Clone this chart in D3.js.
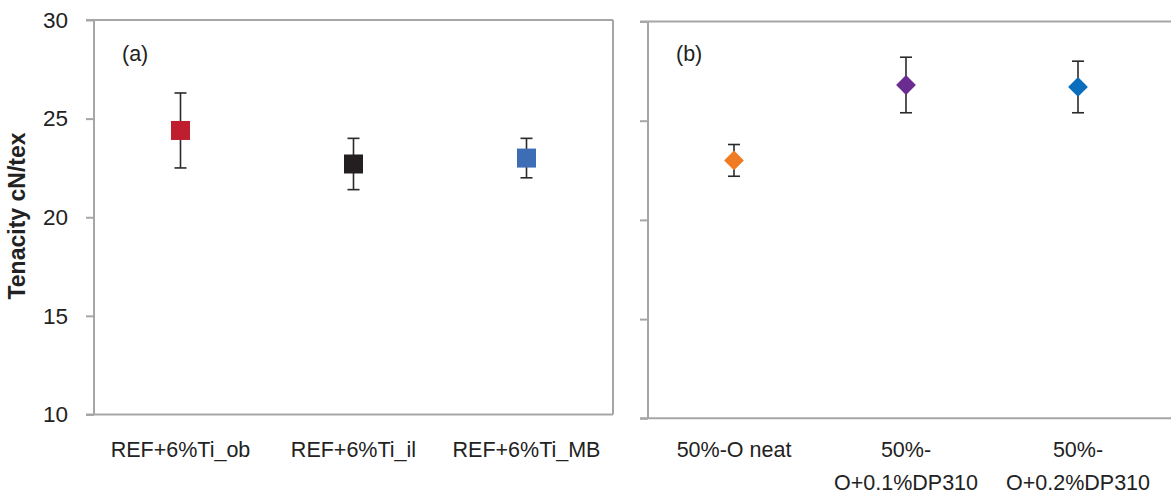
<!DOCTYPE html>
<html>
<head>
<meta charset="utf-8">
<script src="https://cdn.jsdelivr.net/npm/d3@7/dist/d3.min.js"></script>
<style>
  html, body { margin: 0; padding: 0; background: #fff; }
  svg { display: block; }
  text { font-family: "Liberation Sans", Arial, sans-serif; fill: #222; }
</style>
</head>
<body>
<svg id="chart" width="1171" height="495"></svg>
<script>
// ---- data ----
const categoriesA = ["REF+6%Ti_ob", "REF+6%Ti_il", "REF+6%Ti_MB"];
const valuesA = [24.4, 22.7, 23.0];
const errorsA = [1.9, 1.3, 1.0];
const colorsA = ["#be1e2d", "#231f20", "#3d6eb5"];

const categoriesB = ["50%-O neat", "50%-O+0.1%DP310", "50%-O+0.2%DP310"];
const labelLinesB = [["50%-O neat"], ["50%-", "O+0.1%DP310"], ["50%-", "O+0.2%DP310"]];
const valuesB = [23.0, 26.8, 26.7];
const errorsB = [0.8, 1.4, 1.3];
const colorsB = ["#f07b22", "#6b2c91", "#0b6ebd"];

const yTicks = [10, 15, 20, 25, 30];
const yTitle = "Tenacity cN/tex";

// ---- layout ----
const svg = d3.select("#chart");
const axisColor = "#a6a6a6";
const errColor = "#2a2a2a";

function panel(cfg) {
  const g = svg.append("g");
  const x = d3.scaleBand().domain(cfg.cats).range([cfg.x0, cfg.x1]);
  const y = d3.scaleLinear().domain([10, 30]).range([cfg.yBot, cfg.yTop]);

  // axis with ticks
  const ax = g.append("g")
    .attr("transform", `translate(${cfg.x0},0)`)
    .call(d3.axisLeft(y).tickValues(yTicks).tickSize(8).tickPadding(18)
      .tickFormat(cfg.showLabels ? d3.format("d") : () => ""));
  ax.select(".domain").remove();
  ax.selectAll(".tick line").attr("stroke", axisColor).attr("stroke-width", 2);
  ax.selectAll(".tick text").style("font-size", "22.5px").attr("fill", "#222")
    .style("font-family", "'Liberation Sans', Arial, sans-serif");

  // frame lines
  g.append("line").attr("x1", cfg.x0).attr("x2", cfg.x0)
    .attr("y1", y(30)).attr("y2", y(10)).attr("stroke", axisColor).attr("stroke-width", 2);
  g.append("line").attr("x1", cfg.x0 - 8).attr("x2", cfg.lineRight)
    .attr("y1", y(30)).attr("y2", y(30)).attr("stroke", axisColor).attr("stroke-width", 2);
  g.append("line").attr("x1", cfg.x0 - 8).attr("x2", cfg.lineRight)
    .attr("y1", y(10)).attr("y2", y(10)).attr("stroke", axisColor).attr("stroke-width", 2);
  if (cfg.rightBorder) {
    g.append("line").attr("x1", cfg.x1).attr("x2", cfg.x1)
      .attr("y1", y(30)).attr("y2", y(10)).attr("stroke", axisColor).attr("stroke-width", 2);
  }

  const cx = c => x(c) + x.bandwidth() / 2;

  // error bars
  cfg.cats.forEach((c, i) => {
    const v = cfg.vals[i], e = cfg.errs[i];
    const eg = g.append("g").attr("stroke", errColor).attr("stroke-width", 1.6);
    eg.append("line").attr("x1", cx(c)).attr("x2", cx(c)).attr("y1", y(v + e)).attr("y2", y(v - e));
    eg.append("line").attr("x1", cx(c) - 6).attr("x2", cx(c) + 6).attr("y1", y(v + e)).attr("y2", y(v + e));
    eg.append("line").attr("x1", cx(c) - 6).attr("x2", cx(c) + 6).attr("y1", y(v - e)).attr("y2", y(v - e));
  });

  // markers
  cfg.cats.forEach((c, i) => {
    const sym = d3.symbol().type(d3.symbolSquare).size(cfg.diamond ? 196 : 361);
    g.append("path").attr("d", sym())
      .attr("transform", `translate(${cx(c)},${y(cfg.vals[i])})` + (cfg.diamond ? " rotate(45)" : ""))
      .attr("fill", cfg.colors[i]);
  });

  // category labels
  cfg.cats.forEach((c, i) => {
    const t = g.append("text").attr("text-anchor", "middle")
      .attr("x", cx(c)).attr("y", 457).style("font-size", "21.5px");
    cfg.lines[i].forEach((ln, j) => {
      t.append("tspan").attr("x", cx(c)).attr("dy", j === 0 ? 0 : 33).text(ln);
    });
  });

  // panel tag
  g.append("text").attr("x", cfg.x0 + 28).attr("y", 61).style("font-size", "21.5px").text(cfg.tag);
}

panel({ cats: categoriesA, lines: categoriesA.map(d => [d]), vals: valuesA, errs: errorsA, colors: colorsA,
  x0: 94, x1: 613, lineRight: 613, yTop: 20, yBot: 414.5, showLabels: true, rightBorder: true, diamond: false, tag: "(a)" });

panel({ cats: categoriesB, lines: labelLinesB, vals: valuesB, errs: errorsB, colors: colorsB,
  x0: 648, x1: 1164, lineRight: 1171, yTop: 21.5, yBot: 418.3, showLabels: false, rightBorder: false, diamond: true, tag: "(b)" });

// y title
svg.append("text")
  .attr("transform", "translate(25,216) rotate(-90)")
  .attr("text-anchor", "middle")
  .style("font-size", "23px").style("font-weight", "bold")
  .text(yTitle);
</script>
</body>
</html>
